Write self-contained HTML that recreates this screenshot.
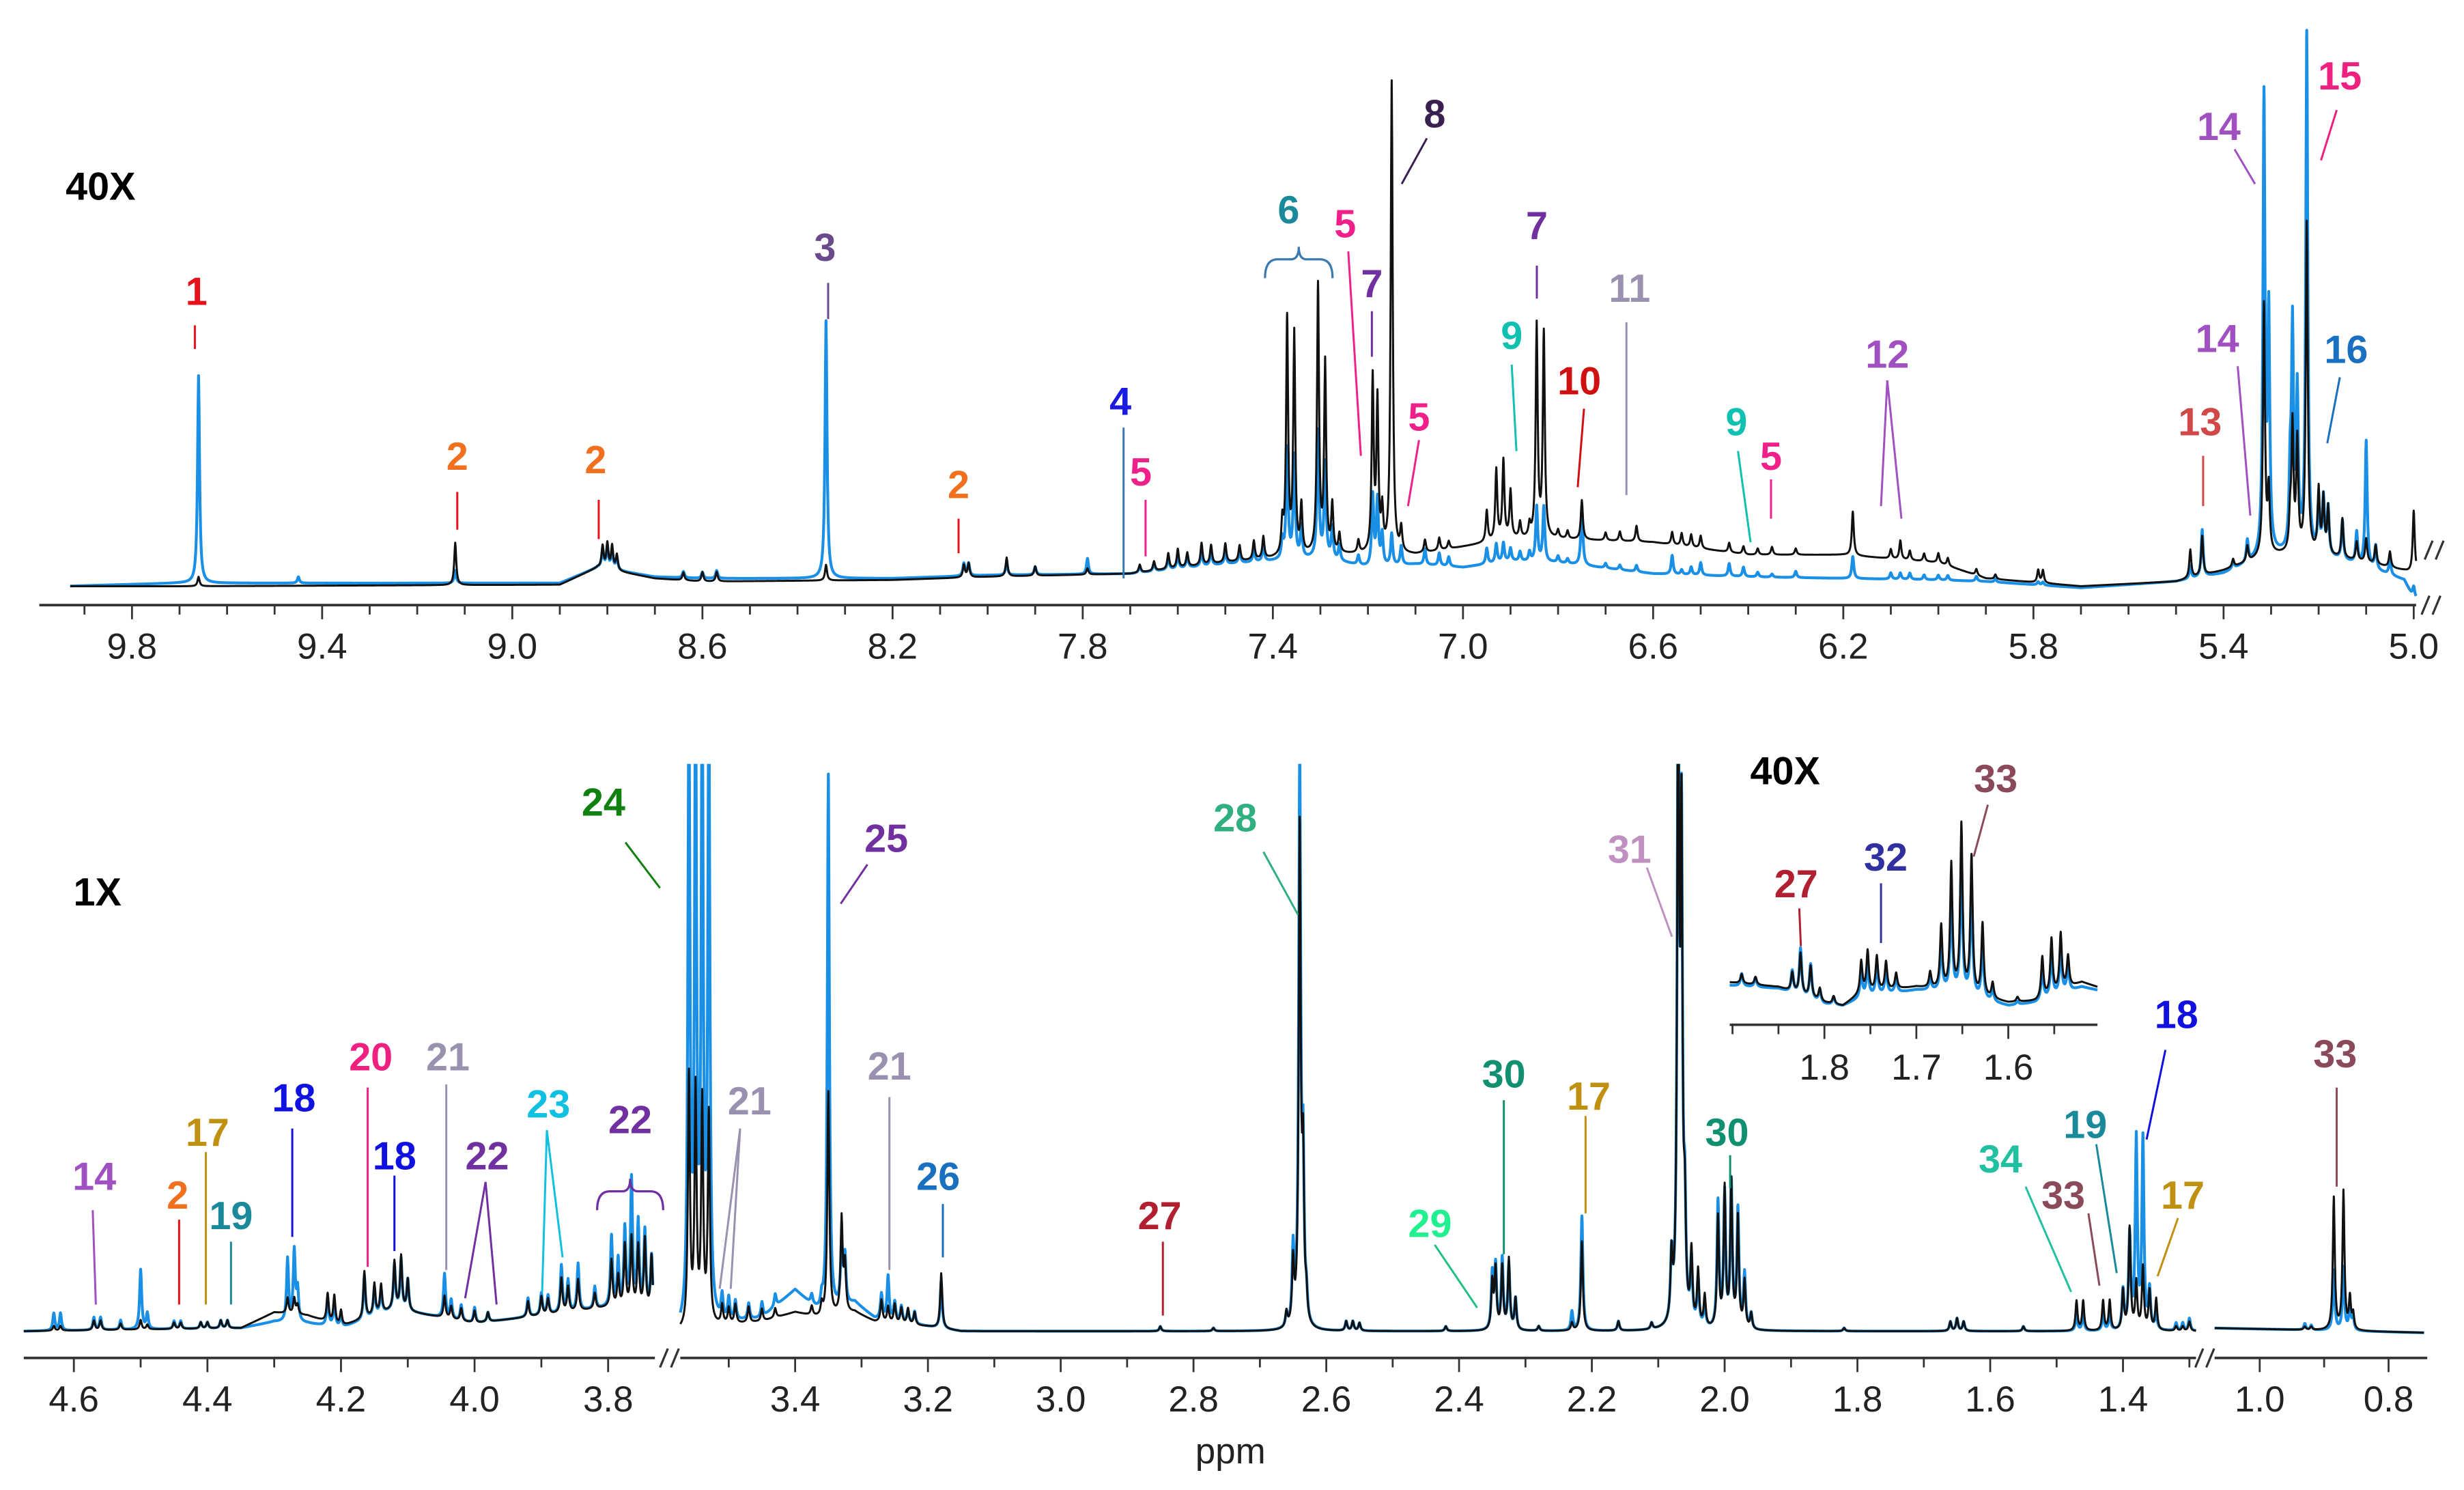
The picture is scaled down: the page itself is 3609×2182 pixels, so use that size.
<!DOCTYPE html>
<html><head><meta charset="utf-8">
<style>
html,body{margin:0;padding:0;background:#fff;}
svg{display:block;}
text{font-family:"Liberation Sans",sans-serif;}
.lbl{font-size:25px;font-weight:bold;text-anchor:middle;}
.tk{font-size:23px;fill:#222;text-anchor:middle;}
</style></head>
<body>
<svg id="chart" width="3609" height="2182" viewBox="0 0 1568 948" xmlns="http://www.w3.org/2000/svg">
<defs>
<clipPath id="clipBot"><rect x="0" y="486" width="1568" height="400"/></clipPath>
<clipPath id="clipTop"><rect x="0" y="6" width="1568" height="380"/></clipPath>
</defs>
<g id="gTop"></g>
<g id="gBot"></g>
<g id="gInset"></g>
<g id="gLabels"></g>
</svg>
<script>
// ---------- TOP PANEL DATA (9.95 - 5.0 ppm, 40X) ----------
const topPpm   = [9.66,9.45,9.12,8.81,8.80,8.79,8.78,8.64,8.60,8.57,8.34,8.05,8.04,7.96,7.90,7.79,7.68,7.65,7.62,7.60,7.58,7.55,7.53,7.50,7.47,7.44,7.42,7.38,7.37,7.355,7.34,7.305,7.29,7.275,7.26,7.22,7.19,7.18,7.17,7.15,7.13,7.08,7.05,7.03,6.95,6.93,6.915,6.90,6.88,6.86,6.845,6.83,6.80,6.78,6.75,6.70,6.67,6.635,6.56,6.54,6.52,6.50,6.44,6.41,6.38,6.35,6.30,6.18,6.10,6.08,6.06,6.03,6.00,5.98,5.92,5.88,5.79,5.78,5.47,5.445,5.38,5.35,5.315,5.305,5.26,5.255,5.245,5.225,5.20,5.19,5.18,5.15,5.12,5.10,5.08,5.05,5.00];
const topBlack = [6,0,27,14,16,15,10,5,6,6,10,8,9,12,6,4,5,6,10,12,9,14,12,12,10,12,14,20,150,140,30,170,120,30,12,8,110,95,25,300,15,8,8,5,20,45,50,30,10,8,135,130,5,5,25,5,6,10,8,8,8,8,6,5,4,5,4,28,6,12,6,5,6,5,4,3,8,8,18,25,5,10,160,40,20,80,70,210,40,35,30,25,12,15,12,10,40];
const topBlue  = [132,4,8,12,14,12,8,4,4,5,164,8,8,8,5,10,4,5,8,9,8,10,9,8,8,8,10,12,70,65,20,80,60,20,10,6,45,42,20,20,12,10,8,6,10,12,12,8,6,6,35,35,4,3,38,3,3,4,12,3,5,8,8,6,3,2,4,14,4,4,4,3,3,3,3,2,2,2,8,30,5,14,290,150,45,140,100,330,30,35,30,25,20,80,15,10,8];
const topKnotPpm   = [9.95,9.7,8.9,8.82,8.7,8.6,8.2,8.0,7.7,7.5,7.3,7.2,7.1,7.0,6.9,6.8,6.6,6.4,6.2,6.0,5.9,5.7,5.5,5.4,5.3,5.2,5.1,5.02,5.0];
const topKnotBlack = [0,0,1,12,5,3,4,6,8,15,20,20,20,25,30,30,28,20,20,15,5,0,3,10,20,20,15,10,8];
const topKnotBlue  = [0,2,2,12,6,5,5,7,8,14,18,12,14,12,16,15,8,6,5,4,3,-1,3,8,20,20,12,4,-8];
const topTicks = [9.8,9.4,9.0,8.6,8.2,7.8,7.4,7.0,6.6,6.2,5.8,5.4,5.0];

// ---------- BOTTOM PANEL DATA (1X) ----------
const bot1Ppm   = [4.63,4.62,4.57,4.56,4.53,4.50,4.49,4.45,4.44,4.41,4.40,4.38,4.37,4.28,4.27,4.265,4.22,4.21,4.20,4.165,4.15,4.14,4.12,4.11,4.10,4.045,4.035,4.02,4.00,3.98,3.92,3.90,3.89,3.87,3.86,3.845,3.82,3.795,3.785,3.775,3.765,3.755,3.745,3.735];
const bot1Black = [3,3,6,6,4,6,3,4,4,4,4,5,5,10,10,6,18,18,10,30,20,18,30,34,20,14,8,8,8,6,10,12,10,22,16,20,10,30,20,40,45,40,45,35];
const bot1Blue  = [11,11,8,8,6,38,10,5,5,4,4,5,5,40,45,20,18,16,8,28,18,15,28,32,20,28,12,10,10,6,12,14,12,30,20,30,14,45,30,50,82,55,50,35];
const bot1KnotPpm   = [4.68,4.35,4.30,4.25,4.20,4.12,4.0,3.9,3.8,3.73];
const bot1KnotBlack = [0,2,12,10,3,14,5,10,15,12];
const bot1KnotBlue  = [0,2,6,5,2,14,5,10,15,12];

const bot2Ppm   = [3.56,3.55,3.54,3.53,3.51,3.50,3.49,3.47,3.45,3.43,3.375,3.36,3.35,3.33,3.325,3.27,3.26,3.25,3.24,3.23,3.22,3.18,2.85,2.77,2.66,2.65,2.64,2.635,2.63,2.57,2.56,2.55,2.42,2.35,2.345,2.335,2.325,2.315,2.28,2.23,2.215,2.16,2.11,2.08,2.07,2.065,2.06,2.05,2.04,2.03,2.01,2.00,1.99,1.98,1.97,1.96,1.82,1.66,1.65,1.64,1.55,1.47,1.46,1.43,1.42,1.40,1.39,1.38,1.37,1.36,1.35,1.32,1.31,1.30];
const bot2Black = [160,150,142,134,12,10,12,10,8,6,6,8,143,60,30,14,10,12,10,10,8,35,3,2,10,40,314,100,15,6,6,5,3,30,38,40,45,20,3,5,57,6,4,40,400,300,60,45,35,20,70,88,92,70,30,10,2,6,8,6,3,19,19,19,19,25,65,30,40,25,20,3,3,6];
const bot2Blue  = [400,400,400,400,15,14,12,10,10,8,6,8,342,40,30,16,28,12,10,8,8,30,3,2,8,48,360,100,15,6,6,5,3,35,40,45,42,20,3,12,73,6,4,40,400,300,66,40,30,15,80,85,92,75,35,10,2,6,8,6,3,10,10,10,10,25,60,121,121,25,10,5,5,8];
const bot2KnotPpm   = [3.573,3.50,3.45,3.40,3.36,3.31,3.28,3.20,3.15,2.0,1.29];
const bot2KnotBlack = [0,4,6,12,8,12,6,3,0,0,0];
const bot2KnotBlue  = [0,5,8,26,10,18,8,3,0,0,0];

const bot3Ppm   = [0.93,0.92,0.885,0.87,0.86,0.855];
const bot3Black = [2,2,84,88,20,10];
const bot3Blue  = [4,3,38,40,15,8];
const bot3KnotPpm   = [1.07,0.95,0.74];
const bot3KnotBlack = [3,2,0];
const bot3KnotBlue  = [3,2,0];

const seg1Ticks = [4.6,4.4,4.2,4.0,3.8];
const seg2Ticks = [3.4,3.2,3.0,2.8,2.6,2.4,2.2,2.0,1.8,1.6,1.4];
const seg3Ticks = [1.0,0.8];

// ---------- INSET DATA (40X, 1.90 - 1.50) ----------
const insPpm   = [1.89,1.875,1.835,1.826,1.815,1.805,1.79,1.76,1.753,1.743,1.733,1.722,1.685,1.673,1.662,1.651,1.640,1.628,1.617,1.59,1.563,1.553,1.543,1.535];
const insBlack = [6,5,12,26,20,8,5,20,26,22,18,10,10,40,80,106,87,46,10,3,26,35,36,20];
const insBlue  = [8,6,14,30,22,8,5,16,20,20,16,10,8,30,62,85,70,35,8,2,20,28,28,16];
const insKnotPpm   = [1.903,1.85,1.80,1.78,1.76,1.70,1.67,1.60,1.57,1.52,1.503];
const insKnotBlack = [15,12,2,0,8,12,10,2,3,15,12];
const insKnotBlue  = [13,11,1,0,5,10,9,0,2,12,10];
const insTicks = [1.8,1.7,1.6];

// ---------- helpers ----------
const NS = "http://www.w3.org/2000/svg";
function mk(tag, attrs, parent){
  const e = document.createElementNS(NS, tag);
  for (const k in attrs) e.setAttribute(k, attrs[k]);
  parent.appendChild(e);
  return e;
}
function interp(kp, kv, p){
  if (p >= kp[0]) return kv[0];
  for (let i=1;i<kp.length;i++){
    if (p >= kp[i]){ const t=(kp[i-1]-p)/(kp[i-1]-kp[i]); return kv[i-1]+(kv[i]-kv[i-1])*t; }
  }
  return kv[kv.length-1];
}
function specPath(p0, p1, xf, y0, ppm, vals, kp, kv, gamma){
  const n = Math.ceil(Math.abs(xf(p1)-xf(p0))*3);
  let pts = [];
  for (let i=0;i<=n;i++) pts.push(p0 + (p1-p0)*i/n);
  ppm.forEach(c => { if (c<=p0 && c>=p1) pts.push(c); });
  pts.sort((a,b)=>b-a);
  let d = "";
  pts.forEach((p,i)=>{
    let v = interp(kp, kv, p);
    for (let j=0;j<ppm.length;j++){ const u=(p-ppm[j])/gamma; v += vals[j]/(1+u*u); }
    d += (i?"L":"M") + xf(p).toFixed(2) + "," + (y0 - v).toFixed(2);
  });
  return d;
}
function drawAxis(g, xf, pa, pb, y, step, labels, fs, labY){
  const ln = mk("line",{x1:xf(pa),x2:xf(pb),y1:y,y2:y,stroke:"#333","stroke-width":1.6},g);
  
  
  const lo = Math.min(pa,pb), hi = Math.max(pa,pb);
  for (let k=Math.ceil(lo/step-1e-6); k*step<=hi+1e-9; k++){
    const p = k*step;
    const major = labels.some(L=>Math.abs(L-p)<1e-6);
    const t = mk("line",{x1:xf(p),x2:xf(p),y1:y,y2:y+(major?9:6),stroke:"#333","stroke-width":1.2},g);
    
    
  }
  labels.forEach(L=>{
    const t = mk("text",{x:xf(L),y:labY,"class":"tk","font-size":fs},g);
    
    
    t.textContent = L.toFixed(1);
  });
}
function breakMark(g, x, y){
  const b = mk("path",{d:`M${x-6},${y+6}L${x-1},${y-6}M${x+1},${y+6}L${x+6},${y-6}`,stroke:"#333","stroke-width":1.4,fill:"none"},g);
  
  
}
const BLUE="#1a8fe6", BLACK="#111";
function drawPair(g, p0,p1,xf,y0,ppm,black,blue,kp,kb,kl,gamma,clip,name){
  const pb = mk("path",{d:specPath(p0,p1,xf,y0,ppm,blue,kp,kl,gamma),fill:"none",stroke:BLUE,"stroke-width":1.8,"stroke-linejoin":"round"},g);
  
  
  const pk = mk("path",{d:specPath(p0,p1,xf,y0,ppm,black,kp,kb,gamma),fill:"none",stroke:BLACK,"stroke-width":1.3,"stroke-linejoin":"round"},g);
  
  
  if (clip){ pb.setAttribute("clip-path",clip); pk.setAttribute("clip-path",clip); }
}

// ---------- TOP ----------
const gTop = document.getElementById("gTop");
const xTop = p => 84 + (9.8-p)*302.5;
drawPair(gTop, 9.93, 4.995, xTop, 373, topPpm, topBlack, topBlue, topKnotPpm, topKnotBlack, topKnotBlue, 0.0025, "url(#clipTop)", "top");
drawAxis(gTop, xTop, 9.995, 4.995, 385, 0.1, topTicks, 23, 419);
breakMark(gTop, 1547, 385);
breakMark(gTop, 1549, 350);

// ---------- BOTTOM ----------
const gBot = document.getElementById("gBot");
const x1 = p => 47 + (4.6-p)*425;
const x2 = p => 506 + (3.4-p)*422.5;
const x3 = p => 1438 + (1.0-p)*410;
drawPair(gBot, 4.675, 3.733, x1, 847, bot1Ppm, bot1Black, bot1Blue, bot1KnotPpm, bot1KnotBlack, bot1KnotBlue, 0.0018, "url(#clipBot)", "seg1");
drawPair(gBot, 3.573, 1.29, x2, 847, bot2Ppm, bot2Black, bot2Blue, bot2KnotPpm, bot2KnotBlack, bot2KnotBlue, 0.0018, "url(#clipBot)", "seg2");
drawPair(gBot, 1.07, 0.745, x3, 848, bot3Ppm, bot3Black, bot3Blue, bot3KnotPpm, bot3KnotBlack, bot3KnotBlue, 0.0018, "url(#clipBot)", "seg3");
drawAxis(gBot, x1, 4.675, 3.73, 864, 0.1, seg1Ticks, 23, 898);
drawAxis(gBot, x2, 3.573, 1.29, 864, 0.1, seg2Ticks, 23, 898);
drawAxis(gBot, x3, 1.07, 0.74, 864, 0.1, seg3Ticks, 23, 898);
breakMark(gBot, 426, 864);
breakMark(gBot, 1403, 864);

// ---------- INSET ----------
const gIns = document.getElementById("gInset");
const xi = p => 1161 + (1.8-p)*585;
drawPair(gIns, 1.903, 1.503, xi, 640, insPpm, insBlack, insBlue, insKnotPpm, insKnotBlack, insKnotBlue, 0.0015, null, "inset");
drawAxis(gIns, xi, 1.903, 1.503, 652, 0.05, insTicks, 23, 687);
</script>

<script>
const gL = document.getElementById("gLabels");
// [text, color, x, y]
const labelTexts = [
 ["40X","#000",64,127],["1","#e8101a",125,194],["2","#f07020",291,299],["2","#f07020",379,301],["3","#6a4a8a",525,166],
 ["2","#f07020",610,317],["4","#1a1ae0",713,264],["5","#f0208a",726,309],["6","#1a8a9a",820,142],["5","#f0208a",856,151],
 ["7","#7030a0",873,189],["8","#3a2050",913,81],["5","#f0208a",903,274],["7","#7030a0",978,152],["9","#10c0b0",962,222],
 ["10","#d01010",1005,251],["11","#9a90b0",1037,192],["9","#10c0b0",1105,277],["5","#f0208a",1127,299],["12","#a050c0",1201,234],
 ["13","#d04848",1400,277],["14","#a050c0",1412,89],["14","#a050c0",1411,224],["15","#f02080",1489,57],["16","#1a70c0",1493,231],
 ["24","#108010",384,519],["1X","#000",62,576],["25","#7030a0",564,542],["28","#30b080",786,529],["31","#c090c0",1037,549],
 ["40X","#000",1136,499],["27","#b02030",1143,571],["32","#3030a0",1200,554],["33","#8a4a5a",1270,504],["18","#1010e0",1385,654],
 ["33","#8a4a5a",1486,679],["14","#a050c0",60,757],["2","#f07020",113,769],["17","#c09010",132,729],["19","#1a8a9a",147,782],
 ["18","#1010e0",187,707],["20","#f02080",236,681],["18","#1010e0",251,744],["21","#9a90b0",285,681],["22","#7030a0",310,744],
 ["23","#10c0e0",349,711],["22","#7030a0",401,721],["21","#9a90b0",477,709],["21","#9a90b0",566,687],["26","#1a70c0",597,757],
 ["27","#b02030",738,782],["29","#20f090",910,787],["30","#109070",957,692],["17","#c09010",1011,706],["30","#109070",1099,729],
 ["34","#20c0a0",1273,746],["33","#8a4a5a",1313,769],["19","#1a8a9a",1327,724],["17","#c09010",1389,769]
];
labelTexts.forEach(L=>{
  const t = document.createElementNS(NS,"text");
  t.setAttribute("x",L[2]); t.setAttribute("y",L[3]); t.setAttribute("class","lbl"); t.setAttribute("fill",L[1]);
  
  
  t.textContent = L[0];
  gL.appendChild(t);
});
const ppmT = document.createElementNS(NS,"text");
ppmT.setAttribute("x",783); ppmT.setAttribute("y",931); ppmT.setAttribute("class","tk");


ppmT.textContent = "ppm";
gL.appendChild(ppmT);
// leader lines [color,x1,y1,x2,y2]
const leaders = [
 ["#e8101a",124,207,124,222],["#e8101a",291,313,291,337],["#e8101a",381,318,381,343],["#6a4a8a",527,180,527,203],
 ["#e8101a",610,330,610,352],["#3a7ab0",715,272,715,368],["#f0208a",729,318,729,354],["#f0208a",858,160,866,290],
 ["#7030a0",873,198,873,227],["#3a2050",908,88,892,117],["#f0208a",903,280,896,322],["#7030a0",978,169,978,190],
 ["#10c0b0",962,232,965,287],["#d01010",1008,260,1004,310],["#9a90b0",1035,205,1035,315],["#10c0b0",1106,287,1114,345],
 ["#f0208a",1127,305,1127,330],["#a050c0",1201,242,1197,322],["#a050c0",1201,242,1210,330],["#d04848",1402,290,1402,322],
 ["#a050c0",1422,95,1435,117],["#a050c0",1424,233,1432,328],["#f02080",1487,70,1477,102],["#1a70c0",1489,240,1481,282],
 ["#108010",398,536,420,565],["#7030a0",552,550,535,575],["#30b080",804,542,826,582],["#c090c0",1048,552,1064,596],
 ["#b02030",1145,578,1146,602],["#3030a0",1197,562,1197,600],["#8a4a5a",1265,512,1256,545],["#1010e0",1378,668,1366,725],
 ["#8a4a5a",1487,692,1487,755],["#a050c0",59,770,61,830],["#e8101a",114,776,114,830],["#c09010",131,733,131,830],
 ["#1a8a9a",147,790,147,830],["#1010e0",186,718,186,787],["#f02080",234,692,234,806],["#1010e0",251,748,251,796],
 ["#9a90b0",284,690,284,808],["#7030a0",309,752,296,826],["#7030a0",309,752,316,830],["#10c0e0",348,719,345,822],
 ["#10c0e0",348,719,358,800],["#9a90b0",471,718,458,820],["#9a90b0",471,718,465,820],["#9a90b0",566,698,566,808],
 ["#1a70c0",600,766,600,800],["#b02030",740,790,740,837],["#20c080",913,792,940,832],["#109070",957,700,957,798],
 ["#c09010",1009,710,1009,772],["#109070",1101,735,1101,756],["#20c0a0",1289,755,1318,822],["#8a4a5a",1329,772,1336,818],
 ["#1a8a9a",1334,728,1347,810],["#c09010",1386,775,1373,812]
];
leaders.forEach(L=>{
  const l = document.createElementNS(NS,"line");
  l.setAttribute("x1",L[1]); l.setAttribute("y1",L[2]); l.setAttribute("x2",L[3]); l.setAttribute("y2",L[4]);
  l.setAttribute("stroke",L[0]); l.setAttribute("stroke-width",1.3);
  
  
  gL.appendChild(l);
});
// braces
const braces = [["#3a7ab0",805,848,165],["#7030a0",380,422,758]];
braces.forEach(B=>{
  const c=B[0], a=B[1], b=B[2], y=B[3], m=(a+b)/2;
  const p = document.createElementNS(NS,"path");
  p.setAttribute("d",`M${a},${y+12}Q${a},${y} ${a+8},${y}L${m-5},${y}Q${m},${y} ${m},${y-8}Q${m},${y} ${m+5},${y}L${b-8},${y}Q${b},${y} ${b},${y+12}`);
  p.setAttribute("fill","none"); p.setAttribute("stroke",c); p.setAttribute("stroke-width",1.4);
  
  
  gL.appendChild(p);
});
</script>
</body></html>
